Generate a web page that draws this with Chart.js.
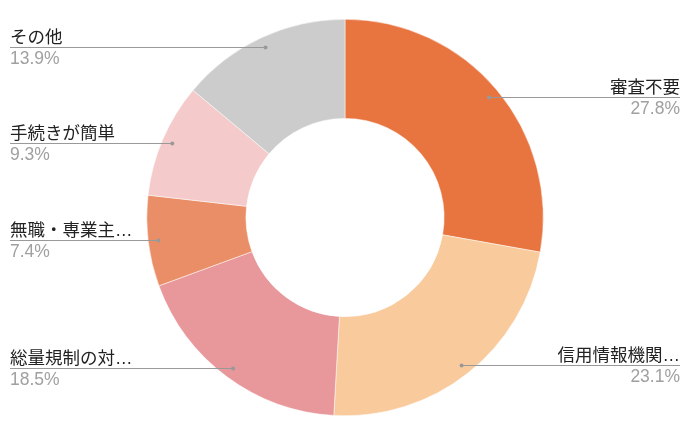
<!DOCTYPE html>
<html>
<head>
<meta charset="utf-8">
<script src="https://cdn.jsdelivr.net/npm/chart.js@4"></script>
<style>
  html, body { margin: 0; padding: 0; background: #fff; }
  #wrap { width: 692px; height: 430px; }
</style>
</head>
<body>
<div id="wrap"><canvas id="pieChart" width="692" height="430"></canvas></div>
<script>
// reasons (labels as shown, truncated like the original)
const categories = ['審査不要', '信用情報機関…', '総量規制の対…', '無職・専業主…', '手続きが簡単', 'その他'];
const shares = [27.8, 23.1, 18.5, 7.4, 9.3, 13.9];
const colors = ['#E8743F', '#F8CA9C', '#E8979A', '#EA8E68', '#F4CACA', '#CCCCCC'];

const FONT = "Arial, 'Liberation Sans', 'Noto Sans CJK JP', sans-serif";

// draws the leader lines and labels the way the original does
const sideLabels = {
  id: 'sideLabels',
  afterDraw(chart) {
    const ctx = chart.ctx;
    const meta = chart.getDatasetMeta(0);
    ctx.save();
    meta.data.forEach((arc, i) => {
      const p = arc.getProps(['x', 'y', 'startAngle', 'endAngle', 'outerRadius'], true);
      const mid = (p.startAngle + p.endAngle) / 2;
      const r = p.outerRadius * 0.948;
      const dx = p.x + Math.cos(mid) * r;
      const dy = Math.round(p.y + Math.sin(mid) * r) + 0.5;
      const right = Math.cos(mid) > 0;
      const endX = right ? 680 : 10;

      ctx.strokeStyle = '#999999';
      ctx.lineWidth = 1;
      ctx.beginPath();
      ctx.moveTo(endX, dy);
      ctx.lineTo(dx, dy);
      ctx.stroke();
      ctx.fillStyle = '#999999';
      ctx.beginPath();
      ctx.arc(dx, dy, 2, 0, Math.PI * 2);
      ctx.fill();

      ctx.textAlign = right ? 'right' : 'left';
      ctx.textBaseline = 'alphabetic';
      ctx.font = '17.5px ' + FONT;
      ctx.fillStyle = '#222222';
      ctx.fillText(categories[i], endX, dy - 5);
      ctx.fillStyle = '#A0A0A0';
      ctx.fillText(shares[i].toFixed(1) + '%', endX, dy + 16);
    });
    ctx.restore();
  }
};

new Chart(document.getElementById('pieChart'), {
  type: 'doughnut',
  data: {
    labels: categories,
    datasets: [{
      data: shares,
      backgroundColor: colors,
      borderColor: '#ffffff',
      borderWidth: 0.5
    }]
  },
  options: {
    responsive: false,
    animation: false,
    cutout: '50%',
    layout: { padding: { top: 19, bottom: 14, left: 0, right: 2 } },
    plugins: {
      legend: { display: false },
      tooltip: { enabled: false }
    }
  },
  plugins: [sideLabels]
});
</script>
</body>
</html>
